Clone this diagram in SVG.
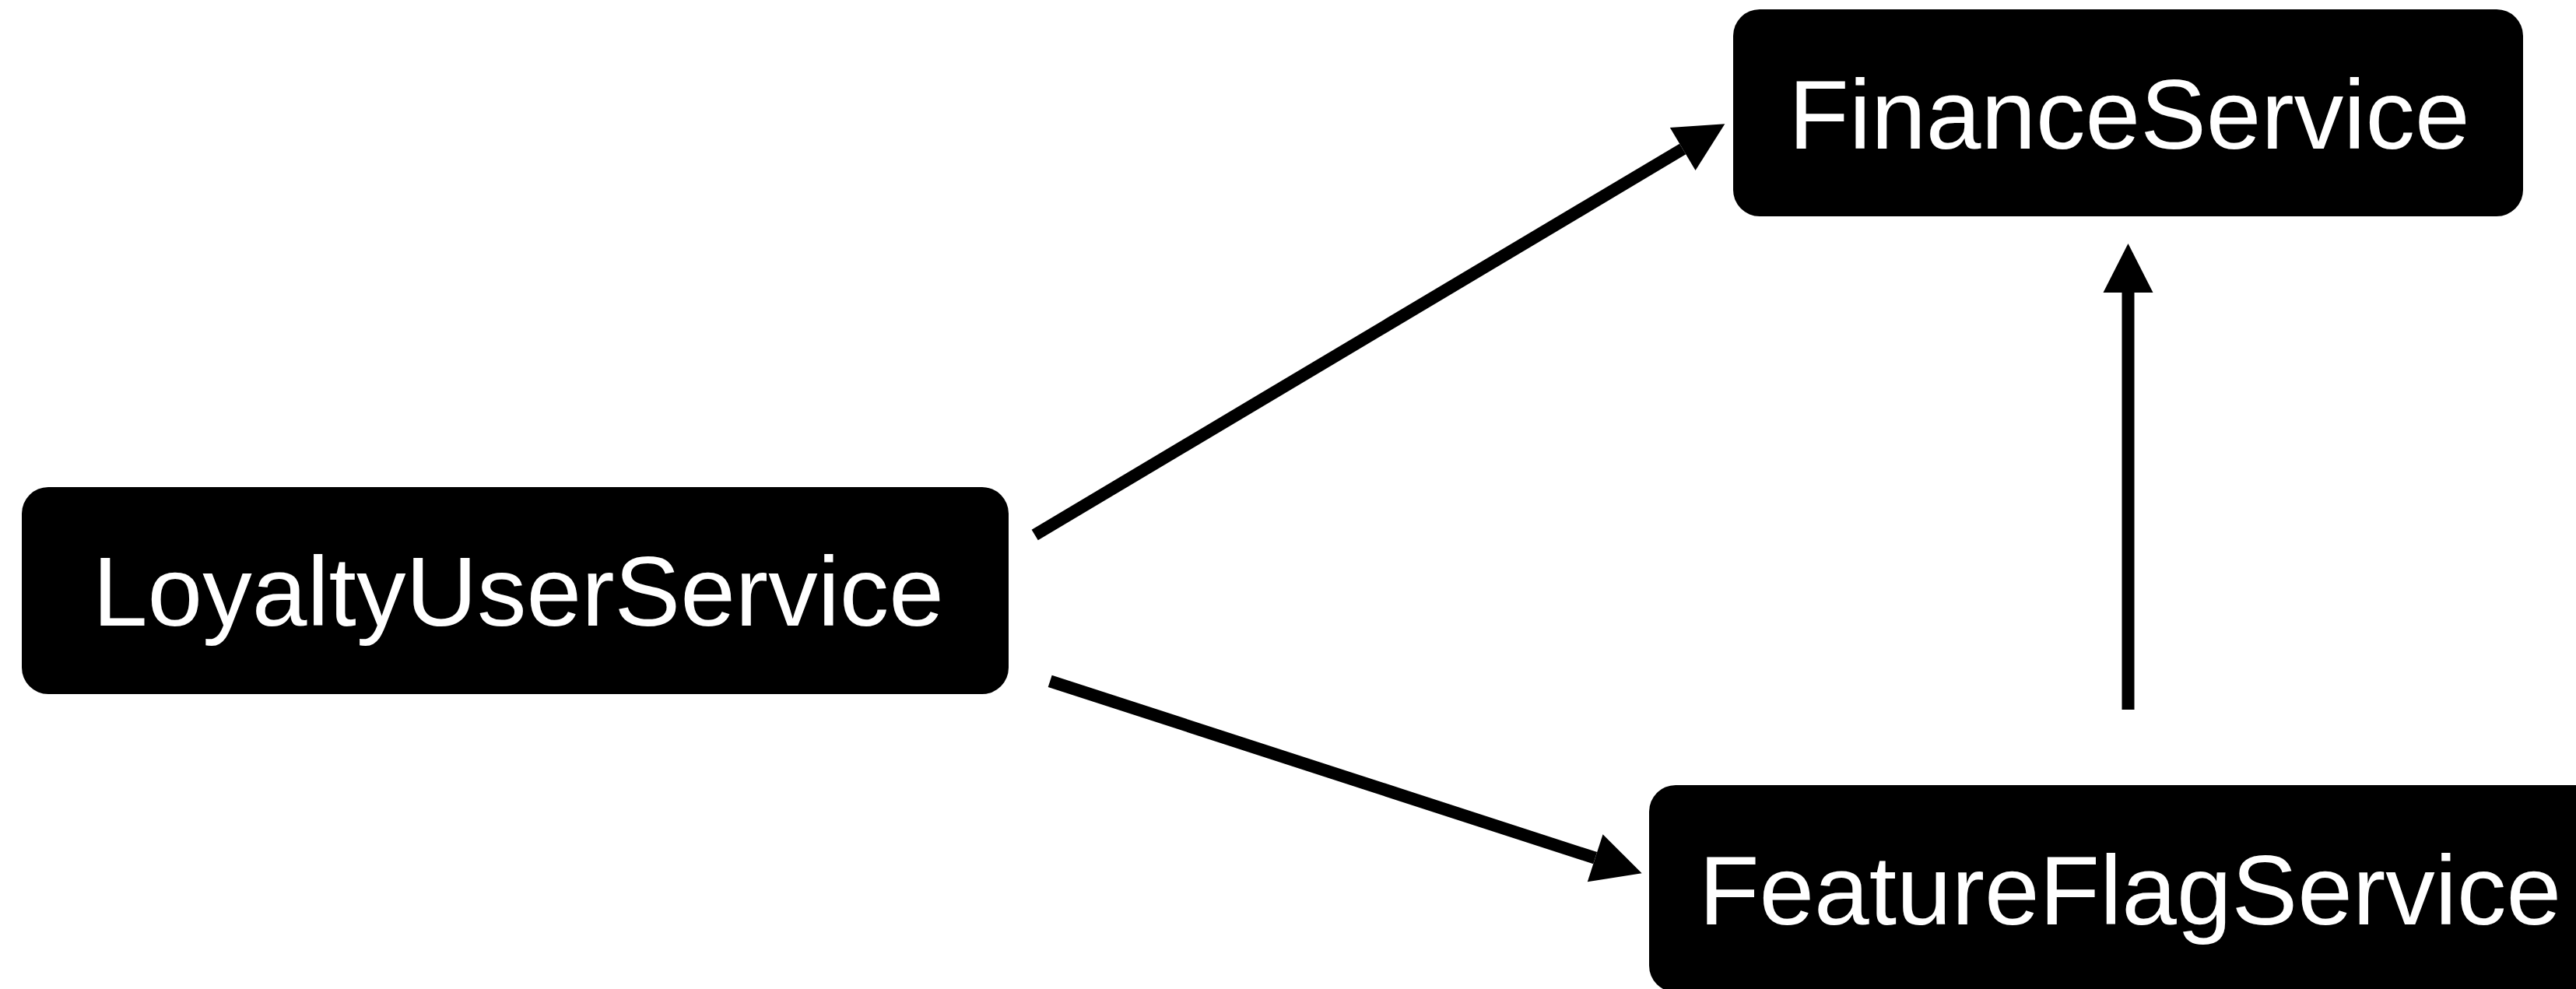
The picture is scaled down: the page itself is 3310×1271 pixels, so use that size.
<svg xmlns="http://www.w3.org/2000/svg" width="3310" height="1271" viewBox="0 0 3310 1271">
  <style>
    .box { fill: #000; }
    .label { fill: #fff; font-family: "Liberation Sans", Arial, Helvetica, sans-serif; font-size: 127px; text-anchor: middle; }
    .edge { stroke: #000; stroke-width: 16; fill: none; stroke-linecap: butt; }
  </style>
  <defs>
    <marker id="arrow" markerUnits="userSpaceOnUse" markerWidth="64" markerHeight="64" refX="0" refY="32" orient="auto" viewBox="0 0 64 64" overflow="visible">
      <path d="M0,0 L63,32 L0,64 Z" fill="#000"/>
    </marker>
  </defs>
  <rect x="0" y="0" width="3310" height="1271" fill="#fff"/>
  <g id="connectors">
    <line class="edge" x1="1329.7" y1="687.5" x2="2162.2" y2="191.5" marker-end="url(#arrow)"/>
    <line class="edge" x1="1349.2" y1="875.3" x2="2049.7" y2="1102.7" marker-end="url(#arrow)"/>
    <line class="edge" x1="2734.5" y1="912" x2="2734.5" y2="376" marker-end="url(#arrow)"/>
  </g>
  <g id="LoyaltyUserService">
    <rect class="box" x="28" y="626" width="1268" height="266" rx="34" ry="34"/>
    <text class="label" x="666" y="804">LoyaltyUserService</text>
  </g>
  <g id="FinanceService">
    <rect class="box" x="2227" y="12" width="1015" height="266" rx="34" ry="34"/>
    <text class="label" x="2736" y="191">FinanceService</text>
  </g>
  <g id="FeatureFlagService">
    <rect class="box" x="2119" y="1009" width="1236" height="266" rx="34" ry="34"/>
    <text class="label" x="2737" y="1188">FeatureFlagService</text>
  </g>
</svg>
